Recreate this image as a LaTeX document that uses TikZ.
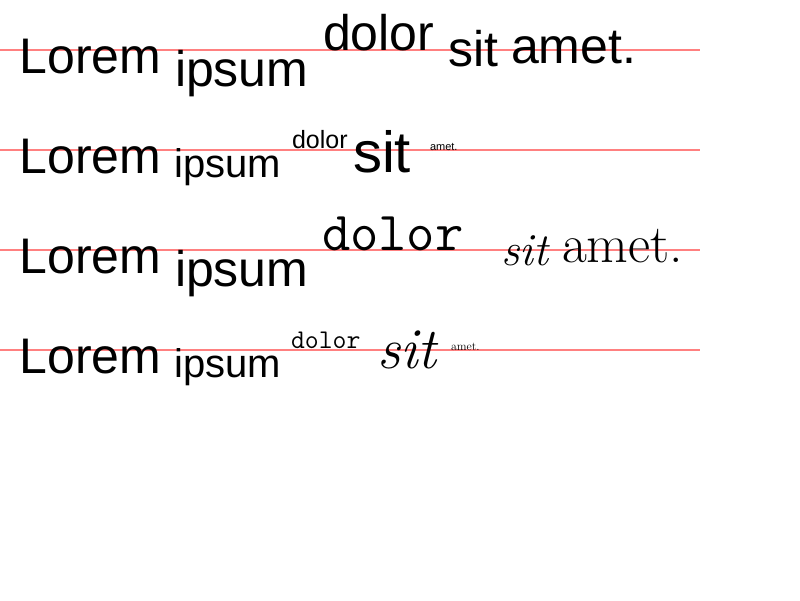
\documentclass[tikz,border=0pt]{standalone}
\usepackage{fontspec}
\newfontfamily\sansf{Liberation Sans}
\definecolor{guide}{HTML}{FF8080}
\tikzset{
  txt/.style={anchor=base west, inner sep=0pt, outer sep=0pt, text=black},
  guideline/.style={draw=guide, line width=1.5pt},
}
\newcommand{\fsz}[1]{\fontsize{#1}{#1}\selectfont}
\begin{document}
\begin{tikzpicture}[x=1pt,y=-1pt]
\useasboundingbox (0,0) rectangle (800,600);
\fill[white] (0,0) rectangle (800,600);
% guide lines
\foreach \yy/\nm in {50/a,150/b,250/c,350/d}{
  \coordinate (\nm L) at (0,\yy);
  \coordinate (\nm R) at (700,\yy);
  \draw[guideline] (\nm L) -- (\nm R);
}
% row 1
\node[txt] (r1lorem) at (19.5,73) {\sansf\fsz{50}Lorem};
\node[txt] (r1ipsum) at (175,86) {\sansf\fsz{50}ipsum};
\node[txt] (r1dolor) at (323,50) {\sansf\fsz{50}dolor};
\node[txt] (r1sit) at (448.5,66) {\sansf\fsz{50}sit};
\node[txt] (r1amet) at (511,63) {\sansf\fsz{50}amet.};
% row 2
\node[txt] (r2lorem) at (19.5,173) {\sansf\fsz{50}Lorem};
\node[txt] (r2ipsum) at (174.5,177) {\sansf\fsz{40}ipsum};
\node[txt] (r2dolor) at (292,148) {\sansf\fsz{25}dolor};
\node[txt] (r2sit) at (353,172) {\sansf\fsz{58}sit};
\node[txt] (r2amet) at (430,150) {\sansf\fsz{11}amet.};
% row 3
\node[txt] (r3lorem) at (19.5,273) {\sansf\fsz{50}Lorem};
\node[txt] (r3ipsum) at (175,286) {\sansf\fsz{50}ipsum};
\node[txt] (r3dolor) at (322,250) {\ttfamily\fsz{55}dolor};
\node[txt] (r3sit) at (501,265) {\itshape\fsz{46}sit};
\node[txt] (r3amet) at (562,262) {\fsz{54}amet.};
% row 4
\node[txt] (r4lorem) at (19.5,373) {\sansf\fsz{50}Lorem};
\node[txt] (r4ipsum) at (174.5,377) {\sansf\fsz{40}ipsum};
\node[txt] (r4dolor) at (291,348) {\ttfamily\fsz{27}dolor};
\node[txt] (r4sit) at (377,368) {\itshape\fsz{58}sit};
\node[txt] (r4amet) at (451,350) {\fsz{12}amet.};
\end{tikzpicture}
\end{document}
